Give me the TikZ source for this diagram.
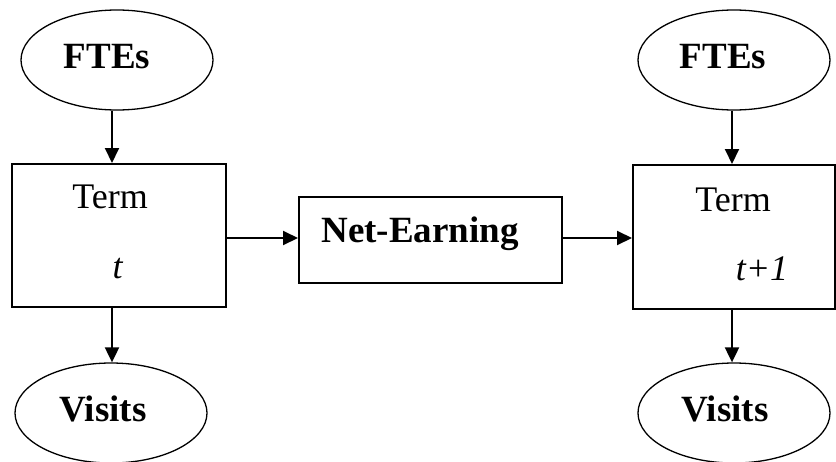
\documentclass[tikz,border=0pt]{standalone}
\usepackage{fontspec}
\setmainfont{Liberation Serif}
\usetikzlibrary{shapes.geometric,arrows.meta,positioning}

\begin{document}
\begin{tikzpicture}[x=1pt,y=-1pt, every node/.style={font=\fontsize{36}{40}\selectfont},
    oval/.style={draw, ellipse, line width=1.3pt, minimum width=192pt, minimum height=100pt, inner sep=0pt},
    termbox/.style={draw, rectangle, line width=2pt, inner sep=0pt},
    flow/.style={line width=2pt, -{Triangle[length=15pt,width=14pt]}},
    bold/.style={font=\fontsize{37}{40}\selectfont\bfseries}]
    \useasboundingbox (0,0) rectangle (836,461);
    % inputs and outputs
    \node[oval] (fteL) at (117,60) {};
    \node[oval] (fteR) at (734,60) {};
    \node[oval] (visL) at (111,413) {};
    \node[oval] (visR) at (734,413) {};
    \node[bold, anchor=base] (fteLtxt) at (107,68) {FTEs};
    \node[bold, anchor=base] (fteRtxt) at (723,68) {FTEs};
    \node[bold, anchor=base] (visLtxt) at (103,421) {Visits};
    \node[bold, anchor=base] (visRtxt) at (725,421) {Visits};
    % terms
    \node[termbox, minimum width=214pt, minimum height=143pt] (termL) at (119,235.5) {};
    \node[termbox, minimum width=263pt, minimum height=86pt] (net) at (430.5,240) {};
    \node[termbox, minimum width=202pt, minimum height=144pt] (termR) at (734,237) {};
    \node[anchor=base] (termLtxt) at (110,208) {Term};
    \node[anchor=base] (tL) at (118,278) {\textit{t}};
    \node[anchor=base] (termRtxt) at (733,211) {Term};
    \node[anchor=base] (tR) at (762,280) {\textit{t+1}};
    \node[bold, anchor=base] (nettxt) at (420,242) {Net-Earning};
    % flows
    \draw[flow] ([xshift=-5pt]fteL.south) -- ([xshift=-5pt]fteL.south |- termL.north);
    \draw[flow] ([xshift=-7pt]termL.south) -- ([xshift=-7pt]termL.south |- visL.north);
    \draw[flow] ([xshift=-2pt]fteR.south) -- ([xshift=-2pt]fteR.south |- termR.north);
    \draw[flow] ([xshift=-2pt]termR.south) -- ([xshift=-2pt]termR.south |- visR.north);
    \draw[flow] ([yshift=-2.5pt]termL.east) -- ([yshift=-2.5pt]termL.east -| net.west);
    \draw[flow] ([yshift=2pt]net.east) -- ([yshift=2pt]net.east -| termR.west);
\end{tikzpicture}
\end{document}
